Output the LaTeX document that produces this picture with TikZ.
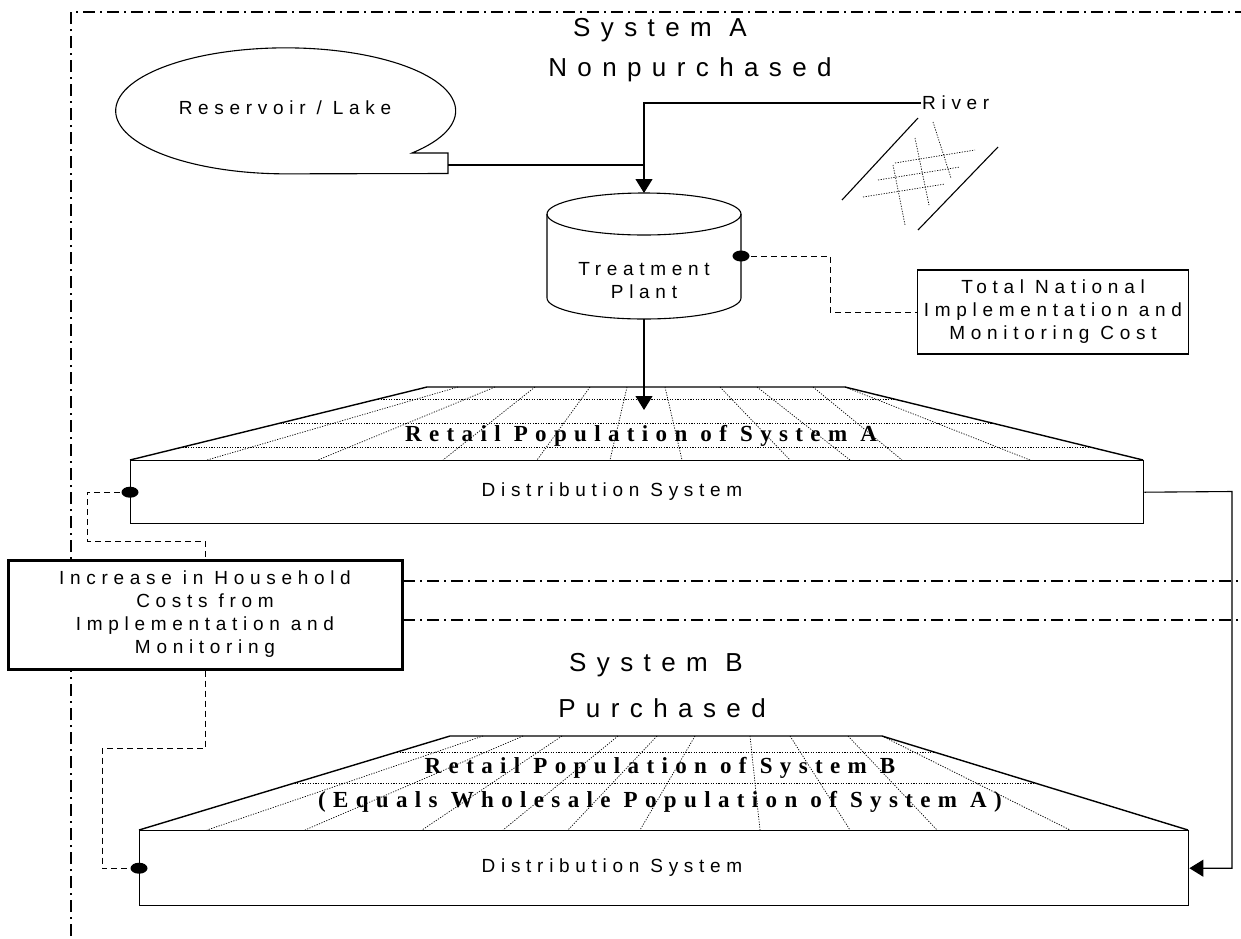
\documentclass[tikz,border=0pt]{standalone}
\usepackage{fontspec}
\usepackage{tikz}
\usetikzlibrary{arrows.meta,calc}
\setmainfont{Liberation Sans}
\newfontfamily\labelfont[LetterSpace=30]{Liberation Sans}
\newfontfamily\titlefont[LetterSpace=40]{Liberation Sans}
\newfontfamily\popfont[LetterSpace=32]{Liberation Serif}

\tikzset{
  lbl/.style={font=\labelfont\fontsize{19}{23}\selectfont, align=center, inner sep=1pt},
  title/.style={font=\titlefont\fontsize{26}{30}\selectfont, inner sep=0pt},
  pop/.style={font=\popfont\bfseries\fontsize{23}{34}\selectfont, align=center, inner sep=0pt},
  outline/.style={line width=1.4pt},
  thin line/.style={line width=1.1pt},
  gridline/.style={line width=0.7pt, dash pattern=on 1.2pt off 1.4pt},
  frameline/.style={line width=1.5pt, dash pattern=on 12pt off 5pt on 2pt off 5pt},
  conn/.style={line width=1pt, dash pattern=on 6pt off 4pt},
  arrow/.style={thin line, -{Triangle[width=17pt,length=14pt]}},
  blob/.style={fill=black}
}

\begin{document}
\begin{tikzpicture}[x=1pt,y=1pt]
\useasboundingbox (0,0) rectangle (1241,-938);

% outer frame of System A
\draw[frameline] (71,-936) -- (71,-12) -- (1241,-12);

% titles
\node[title] (sysA) at (660,-30) {System A};
\node[title] (nonpurch) at (690,-70) {Nonpurchased};

% reservoir / lake
\draw[thin line] (412,-153) arc[start angle=-42,end angle=270,x radius=170,y radius=63]
  -- (448,-173.5) -- (448,-153) -- cycle;
\node[lbl] (lake) at (285,-108) {Reservoir / Lake};
\coordinate (lake tab) at (448,-165);

% river
\node[lbl, anchor=west] (river) at (921,-103) {River};
\draw[thin line] (918,-118) -- (842,-200);
\draw[thin line] (998,-147) -- (918,-230);
\draw[gridline] (895,-163) -- (975,-150);
\draw[gridline] (878,-180) -- (960,-167);
\draw[gridline] (863,-197) -- (945,-184);
\draw[gridline] (933,-122) -- (951,-178);
\draw[gridline] (915,-138) -- (929,-205);
\draw[gridline] (893,-165) -- (905,-225);

% treatment plant
\draw[thin line, fill=white] (547,-214) -- (547,-298)
  arc[start angle=180,end angle=360,x radius=97,y radius=21] -- (741,-214);
\draw[thin line] (644,-214) ellipse[x radius=97,y radius=21];
\node[lbl] (plant) at (644,-281) {Treatment\\Plant};
\coordinate (plant top) at (644,-193);
\coordinate (plant bottom) at (644,-319);
\coordinate (plant dot) at (741,-256);

\draw[arrow] (river.west) -| (plant top);
\draw[thin line] (lake tab) -- (lake tab -| plant top);

% national cost
\node[lbl, draw, thin line, minimum width=271, minimum height=84] (national) at (1053,-312)
  {Total National\\Implementation and\\Monitoring Cost};
\draw[conn] (plant dot) -- (830,-256) |- (national.west);
\fill[blob] (plant dot) ellipse[x radius=8.5,y radius=5.5];

% System A population
\coordinate (A bl) at (130,-460);
\coordinate (A tl) at (427,-387);
\coordinate (A tr) at (845,-387);
\coordinate (A br) at (1143,-460);
\foreach \t in {0.164,0.493,0.822}
  \draw[gridline] ($(A tl)!\t!(A bl)$) -- ($(A tr)!\t!(A br)$);
\foreach \a/\b in {458/207,495/318,535/443,590/537,627/610,665/682,720/790,757/850,813/902,845/1030}
  \draw[gridline] (\a,-387) -- (\b,-460);
\draw[outline] (A bl) -- (A tl) -- (A tr) -- (A br);
\node[outline, draw, minimum width=1013, minimum height=63, anchor=north west, inner sep=0pt] (boxA) at (A bl) {};
\node[pop] (popA) at (641,-436) {Retail Population of System A};
\node[lbl] (distA) at (612,-492) {Distribution System};
\coordinate (popA drop) at (644,-410);
\draw[arrow] (plant bottom) -- (popA drop);

% household costs
\draw[frameline] (403,-581) -- (1241,-581);
\draw[frameline] (403,-620) -- (1241,-620);
\node[lbl, draw, line width=3pt, fill=white, minimum width=394, minimum height=109] (increase) at (205,-614.5)
  {Increase in Household\\Costs from\\Implementation and\\Monitoring};

% System B
\node[title] (sysB) at (656,-665) {System B};
\node[title] (purch) at (662,-708) {Purchased};

\coordinate (B bl) at (139,-830);
\coordinate (B tl) at (450,-736);
\coordinate (B tr) at (882,-736);
\coordinate (B br) at (1188,-830);
\foreach \t in {0.170,0.500}
  \draw[gridline] ($(B tl)!\t!(B bl)$) -- ($(B tr)!\t!(B br)$);
\foreach \a/\b in {483/207,523/305,562/422,618/503,657/568,695/640,750/760,790/850,848/937,882/1070}
  \draw[gridline] (\a,-736) -- (\b,-830);
\draw[outline] (B bl) -- (B tl) -- (B tr) -- (B br);
\node[outline, draw, minimum width=1049, minimum height=75, anchor=north west, inner sep=0pt] (boxB) at (B bl) {};
\node[pop] (popB) at (660,-785) {Retail Population of System B\\(Equals Wholesale Population of System A)};
\node[lbl] (distB) at (612,-868) {Distribution System};

% connectors
\draw[arrow] (boxA.east) -- (1232,-491.5) |- (boxB.east);
\draw[conn] (boxA.west) -| (87,-541) -| (increase.north);
\draw[conn] (increase.south) |- (102,-748) |- (boxB.west);
\fill[blob] (boxA.west) ellipse[x radius=8.5,y radius=5.5];
\fill[blob] (boxB.west) ellipse[x radius=8.5,y radius=5.5];
\end{tikzpicture}
\end{document}
